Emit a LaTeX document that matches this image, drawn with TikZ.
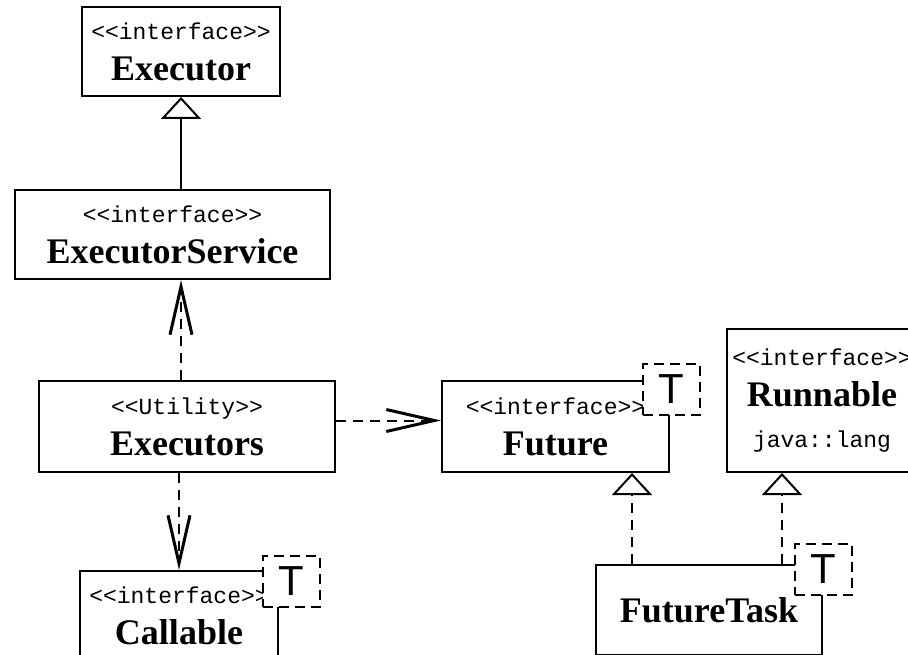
\documentclass[tikz,border=0pt]{standalone}
\usepackage{fontspec}
\setmainfont{Liberation Serif}
\newfontfamily\stereofont{Liberation Mono}
\newfontfamily\tparamfont{Liberation Sans}
\usetikzlibrary{arrows.meta,positioning}
\newcommand{\stereo}[1]{{\stereofont\fontsize{23}{41}\selectfont #1}}
\newcommand{\clname}[1]{{\bfseries #1}}
\tikzset{
    >=stealth,
    font=\fontsize{36}{41}\selectfont,
    class box/.style={draw,line width=2pt,fill=white,align=center,inner sep=0pt,minimum height=90pt},
    tparam box/.style={draw,line width=2pt,dash pattern=on 10pt off 6pt,fill=white,inner sep=0pt,
        minimum width=57pt,minimum height=51pt,font=\tparamfont\fontsize{42}{42}\selectfont},
    inherit/.style={line width=2pt,-{Triangle[open,length=22pt,width=40pt,fill=white]}},
    realize/.style={inherit,dash pattern=on 10pt off 7pt},
    depend/.style={line width=2pt,dash pattern=on 10pt off 7pt,
        -{Straight Barb[length=48pt,width=22pt,line width=3pt]}}
}
\begin{document}
\begin{tikzpicture}
    \useasboundingbox (0,0) rectangle (908pt,-655pt);
    \clip (0,0) rectangle (908pt,-655pt);
    \node[class box, minimum width=296pt, minimum height=91pt] (executors) at (187pt,-426.5pt)
        {\stereo{<<Utility>>}\\\clname{Executors}};
    \node[class box, minimum width=315pt, minimum height=89pt] (execsvc) [above = 100pt of executors, xshift=-14.5pt]
        {\stereo{<<interface>>}\\\clname{ExecutorService}};
    \node[class box, minimum width=198pt, minimum height=89pt] (executor) [above = 92pt of execsvc, xshift=8.5pt]
        {\stereo{<<interface>>}\\\clname{Executor}};
    \node[class box, minimum width=198pt] (callable) [below = 97pt of executors, xshift=-8pt]
        {\stereo{<<interface>>}\\\clname{Callable}};
    \node[class box, minimum width=227pt, minimum height=91pt] (future) [right = 105pt of executors]
        {\stereo{<<interface>>}\\\clname{Future}};
    \node[class box, minimum width=190pt, minimum height=143pt, anchor=south west] (runnable)
        at ([xshift=56pt]future.south east)
        {\stereo{<<interface>>}\\\clname{Runnable}\\\stereo{java::lang}};
    \node[class box, minimum width=226pt] (futuretask) [below = 91pt of future, xshift=153.5pt]
        {\clname{FutureTask}};
    \coordinate (futuretip) at ([xshift=-38pt]future.south east);
    \coordinate (runnabletip) at ([xshift=56pt]runnable.south west);
    \path[]
        (execsvc.north -| executor) edge [inherit] (executor.south)
        (executors.north -| executor) edge [depend] (execsvc.south -| executor)
        (executors.south -| callable) edge [depend] (callable.north)
        ([yshift=6pt]executors.east) edge [depend] ([yshift=6pt]future.west)
        (futuretask.north -| futuretip) edge [realize] (futuretip)
        (futuretask.north -| runnabletip) edge [realize] (runnabletip)
        ;
    \node[tparam box] (callablet) at ([shift={(12pt,-11.5pt)}]callable.north east) {T};
    \node[tparam box] (futuret) at ([shift={(1.5pt,-9.5pt)}]future.north east) {T};
    \node[tparam box] (futuretaskt) at ([shift={(0.5pt,-5pt)}]futuretask.north east) {T};
\end{tikzpicture}
\end{document}
